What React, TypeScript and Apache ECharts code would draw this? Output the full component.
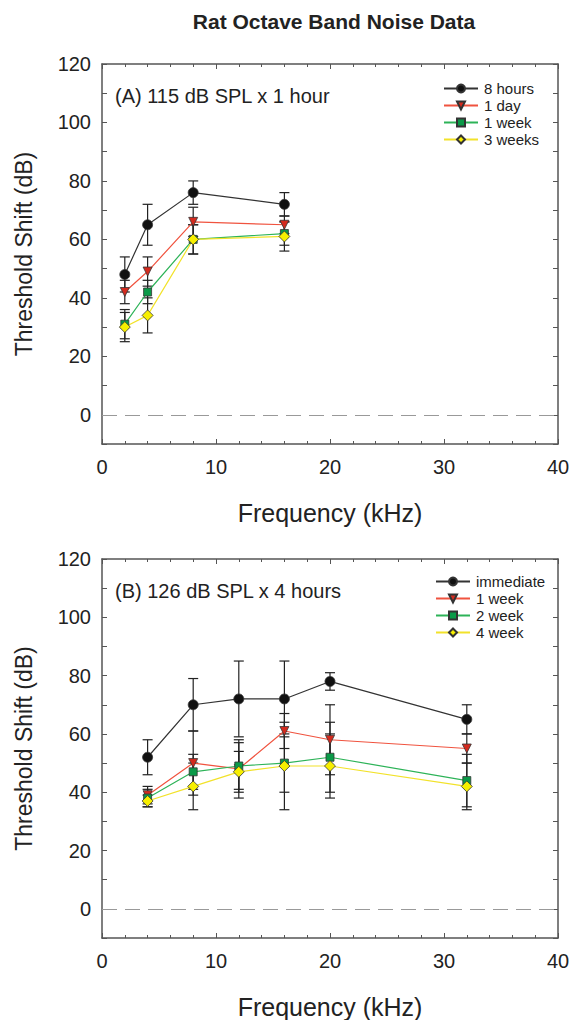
import React, { useEffect, useRef } from "react";
import * as echarts from "echarts";

// Panel A data
const freqA = [2, 4, 8, 16];
const hours8 = [48, 65, 76, 72];
const errHours8 = [6, 7, 4, 4];
const day1 = [42, 49, 66, 65];
const errDay1 = [4, 5, 5, 3];
const week1A = [31, 42, 60, 62];
const errWeek1A = [5, 4, 5, 4];
const weeks3 = [30, 34, 60, 61];
const errWeeks3 = [5, 6, 5, 5];

// Panel B data
const freqB = [4, 8, 12, 16, 20, 32];
const immediate = [52, 70, 72, 72, 78, 65];
const errImmediate = [6, 9, 13, 13, 3, 5];
const week1B = [39, 50, 48, 61, 58, 55];
const errWeek1B = [3, 11, 10, 6, 12, 5];
const week2 = [38, 47, 49, 50, 52, 44];
const errWeek2 = [3, 6, 8, 10, 12, 9];
const week4 = [37, 42, 47, 49, 49, 42];
const errWeek4 = [2, 8, 7, 15, 11, 8];

const namesA = ["8 hours", "1 day", "1 week", "3 weeks"];
const namesB = ["immediate", "1 week", "2 week", "4 week"];

const FONT = "Liberation Sans, Arial, sans-serif";
const styles = [
  { line: "#333333", fill: "#111111", symbol: "circle", size: 10, rotate: 0 },
  { line: "#f0533f", fill: "#d42a1e", symbol: "triangle", size: 9, rotate: 180 },
  { line: "#2db358", fill: "#0a9a48", symbol: "rect", size: 8, rotate: 0 },
  { line: "#f2e22a", fill: "#f7ef00", symbol: "diamond", size: 11, rotate: 0 },
];

function errorSeries(freq: number[], vals: number[], errs: number[], xi: number, yi: number) {
  return {
    type: "custom",
    xAxisIndex: xi,
    yAxisIndex: yi,
    z: 1,
    silent: true,
    data: freq.map((f, i) => [f, vals[i], errs[i]]),
    encode: { x: 0, y: 1 },
    renderItem: (params: any, api: any) => {
      const x = api.value(0);
      const y = api.value(1);
      const e = api.value(2);
      const top = api.coord([x, y + e]);
      const bot = api.coord([x, y - e]);
      const hw = 5;
      const st = { stroke: "#222", lineWidth: 1.2 };
      return {
        type: "group",
        children: [
          { type: "line", shape: { x1: top[0], y1: top[1], x2: bot[0], y2: bot[1] }, style: st },
          { type: "line", shape: { x1: top[0] - hw, y1: top[1], x2: top[0] + hw, y2: top[1] }, style: st },
          { type: "line", shape: { x1: bot[0] - hw, y1: bot[1], x2: bot[0] + hw, y2: bot[1] }, style: st },
        ],
      };
    },
  };
}

function lineSeries(name: string, freq: number[], vals: number[], idx: number, xi: number, yi: number) {
  const s = styles[idx];
  return {
    type: "line",
    name,
    xAxisIndex: xi,
    yAxisIndex: yi,
    z: 3,
    data: freq.map((f, i) => [f, vals[i]]),
    symbol: s.symbol,
    symbolSize: s.size,
    symbolRotate: s.rotate,
    showAllSymbol: true,
    lineStyle: { color: s.line, width: 1.2 },
    itemStyle: { color: s.fill, borderColor: "#333", borderWidth: 0.8 },
  };
}

function axesFor(gridIndex: number) {
  const axisLine = { show: true, onZero: false, lineStyle: { color: "#555", width: 1.5 } };
  const xTicks = {
    axisTick: { inside: true, length: 5, lineStyle: { color: "#555" } },
    minorTick: { show: true, splitNumber: 5, length: 3, lineStyle: { color: "#555" } },
  };
  const xBottom = {
    type: "value",
    gridIndex,
    min: 0,
    max: 40,
    interval: 10,
    position: "bottom",
    name: "Frequency (kHz)",
    nameLocation: "middle",
    nameGap: 56,
    nameTextStyle: { fontFamily: FONT, fontSize: 25, color: "#222" },
    axisLine,
    ...xTicks,
    axisLabel: { fontFamily: FONT, fontSize: 20, color: "#222", margin: 13 },
    splitLine: { show: false },
  };
  const xTop = {
    type: "value",
    gridIndex,
    min: 0,
    max: 40,
    interval: 10,
    position: "top",
    axisLine,
    ...xTicks,
    axisLabel: { show: false },
    splitLine: { show: false },
  };
  const yTicks = { axisTick: { inside: true, length: 5, lineStyle: { color: "#555" } } };
  const yLeft = {
    type: "value",
    gridIndex,
    min: -10,
    max: 120,
    interval: 10,
    position: "left",
    name: "Threshold Shift (dB)",
    nameLocation: "middle",
    nameGap: 67,
    nameTextStyle: { fontFamily: FONT, fontSize: 23, color: "#222" },
    axisLine,
    ...yTicks,
    axisLabel: {
      fontFamily: FONT,
      fontSize: 20,
      color: "#222",
      margin: 11,
      formatter: (v: number) => (v >= 0 && v % 20 === 0 ? String(v) : ""),
    },
    splitLine: { show: false },
  };
  const yRight = {
    type: "value",
    gridIndex,
    min: -10,
    max: 120,
    interval: 10,
    position: "right",
    axisLine,
    ...yTicks,
    axisLabel: { show: false },
    splitLine: { show: false },
  };
  return { x: [xBottom, xTop], y: [yLeft, yRight] };
}

export default function App() {
  const ref = useRef<HTMLDivElement>(null);
  useEffect(() => {
    if (!ref.current) return;
    const chart = echarts.init(ref.current, null, { renderer: "svg" });
    const a = axesFor(0);
    const b = axesFor(1);
    const zeroLine = {
      silent: true,
      symbol: "none",
      label: { show: false },
      lineStyle: { color: "#999", type: [15, 8], width: 1 },
      data: [{ yAxis: 0 }],
    };
    const dataA = [hours8, day1, week1A, weeks3];
    const errA = [errHours8, errDay1, errWeek1A, errWeeks3];
    const dataB = [immediate, week1B, week2, week4];
    const errB = [errImmediate, errWeek1B, errWeek2, errWeek4];
    const series: any[] = [];
    dataA.forEach((d, i) => series.push(errorSeries(freqA, d, errA[i], 0, 0)));
    dataB.forEach((d, i) => series.push(errorSeries(freqB, d, errB[i], 2, 2)));
    dataA.forEach((d, i) => {
      const s: any = lineSeries("A:" + namesA[i], freqA, d, i, 0, 0);
      if (i === 0) s.markLine = zeroLine;
      series.push(s);
    });
    dataB.forEach((d, i) => {
      const s: any = lineSeries("B:" + namesB[i], freqB, d, i, 2, 2);
      if (i === 0) s.markLine = zeroLine;
      series.push(s);
    });
    const legendCommon = {
      orient: "vertical",
      padding: 0,
      itemWidth: 34,
      itemHeight: 10,
      itemGap: 2,
      textStyle: { fontFamily: FONT, fontSize: 15, color: "#222", padding: [0, 0, 0, 1] },
      formatter: (n: string) => n.replace(/^[AB]:/, ""),
      selectedMode: false,
    };
    chart.setOption({
      animation: false,
      backgroundColor: "#fff",
      title: {
        text: "Rat Octave Band Noise Data",
        left: 329,
        top: 6,
        textAlign: "center",
        textStyle: { fontFamily: FONT, fontSize: 21, fontWeight: "bold", color: "#222" },
      },
      grid: [
        { left: 102, right: 15, top: 64, height: 380 },
        { left: 102, right: 15, top: 559, height: 380 },
      ],
      xAxis: [...a.x, ...b.x],
      yAxis: [...a.y, ...b.y],
      legend: [
        { ...legendCommon, left: 443, top: 81, data: namesA.map((n) => "A:" + n) },
        { ...legendCommon, left: 435, top: 574, data: namesB.map((n) => "B:" + n) },
      ],
      graphic: [
        {
          type: "text",
          left: 115,
          top: 86,
          style: { text: "(A) 115 dB SPL x 1 hour", fontFamily: FONT, fontSize: 20, fill: "#222" },
        },
        {
          type: "text",
          left: 115,
          top: 581,
          style: { text: "(B) 126 dB SPL x 4 hours", fontFamily: FONT, fontSize: 20, fill: "#222" },
        },
      ],
      series,
    });
    return () => chart.dispose();
  }, []);
  return <div ref={ref} style={{ width: 573, height: 1020, position: "absolute", left: 0, top: 0 }} />;
}
